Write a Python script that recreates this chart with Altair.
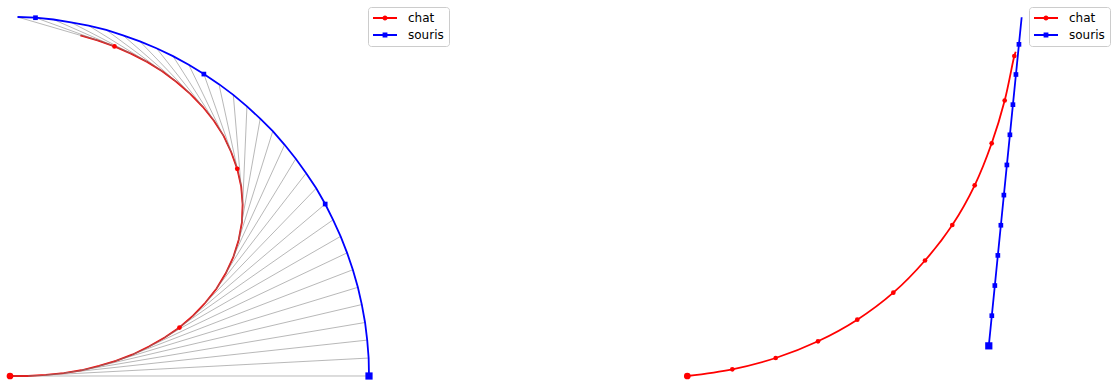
import altair as alt
import pandas as pd

# ---------------- data ----------------
series = ["chat", "souris"]
colors = ["#ff0000", "#0000ff"]

# Left panel: mouse runs on the unit circle, cat starts at its centre
L_cat_x = [0.000, 0.050, 0.100, 0.150, 0.199, 0.248, 0.295, 0.342, 0.387, 0.431,
           0.472, 0.510, 0.544, 0.575, 0.601, 0.622, 0.637, 0.646, 0.648, 0.644,
           0.633, 0.616, 0.595, 0.568, 0.537, 0.502, 0.464, 0.424, 0.382, 0.337,
           0.291, 0.244, 0.196]
L_cat_y = [0.000, 0.000, 0.003, 0.008, 0.016, 0.028, 0.042, 0.060, 0.082, 0.107,
           0.135, 0.168, 0.204, 0.243, 0.286, 0.331, 0.379, 0.428, 0.478, 0.528,
           0.577, 0.624, 0.669, 0.711, 0.750, 0.786, 0.819, 0.849, 0.875, 0.898,
           0.918, 0.935, 0.949]
L_mouse_x = [1.000, 0.999, 0.995, 0.989, 0.980, 0.969, 0.955, 0.939, 0.921, 0.900,
             0.878, 0.853, 0.825, 0.796, 0.765, 0.732, 0.697, 0.660, 0.622, 0.582,
             0.540, 0.498, 0.454, 0.408, 0.362, 0.315, 0.268, 0.219, 0.170, 0.121,
             0.071, 0.021]
L_mouse_y = [0.000, 0.050, 0.100, 0.149, 0.199, 0.247, 0.296, 0.343, 0.389, 0.435,
             0.479, 0.523, 0.565, 0.605, 0.644, 0.682, 0.717, 0.751, 0.783, 0.813,
             0.841, 0.867, 0.891, 0.913, 0.932, 0.949, 0.964, 0.976, 0.985, 0.993,
             0.998, 1.000]

# Right panel: mouse runs on a straight line
R_cat_i = [0, 10, 20, 30, 40, 50, 60, 70, 80, 90, 100, 110, 111]
R_cat_x = [0.000, 1.493, 2.932, 4.335, 5.638, 6.833, 7.884, 8.789, 9.532, 10.096,
           10.527, 10.846, 10.892]
R_cat_y = [0.000, 0.222, 0.597, 1.151, 1.867, 2.763, 3.831, 5.008, 6.325, 7.718,
           9.138, 10.614, 10.756]
R_mouse_i = [0, 10, 20, 30, 40, 50, 60, 70, 80, 90, 100, 109]
R_mouse_x = [10.0, 10.1, 10.2, 10.3, 10.4, 10.5, 10.6, 10.7, 10.8, 10.9, 11.0, 11.09]
R_mouse_y = [1.0, 2.0, 3.0, 4.0, 5.0, 6.0, 7.0, 8.0, 9.0, 10.0, 11.0, 11.9]

# ---------------- helpers ----------------
PATH_CHAT = ("M-2,-0.15L2,-0.15L2,0.15L-2,0.15Z"
             "M-0.42,0A0.42,0.42,0,1,1,0.42,0A0.42,0.42,0,1,1,-0.42,0Z")
PATH_SOURIS = ("M-2,-0.15L2,-0.15L2,0.15L-2,0.15Z"
               "M-0.4,-0.4L0.4,-0.4L0.4,0.4L-0.4,0.4Z")


def frame(xs, ys, idx, name):
    return pd.DataFrame({"x": xs, "y": ys, "i": idx, "series": name})


def panel(cat, mouse, xdom, ydom, leg_x, links=None, interp="linear"):
    xs = alt.Scale(domain=xdom, nice=False, zero=False)
    ys = alt.Scale(domain=ydom, nice=False, zero=False)
    X = alt.X("x:Q", scale=xs, axis=None)
    Y = alt.Y("y:Q", scale=ys, axis=None)
    layers = []

    def line(df, col):
        return alt.Chart(df).mark_line(color=col, strokeWidth=1.8, interpolate=interp).encode(
            x=X, y=Y, order=alt.Order("i:Q"))

    def marks(df, col, shape, size, cond):
        return alt.Chart(df).transform_filter(cond).mark_point(
            shape=shape, filled=True, size=size, color=col, opacity=1, strokeWidth=0
        ).encode(x=X, y=Y)

    layers.append(line(cat, colors[0]))
    if links is not None:
        layers.append(alt.Chart(links).mark_rule(color="#7a7a7a", strokeWidth=0.6, opacity=0.9).encode(
            x=X, y=Y, x2="x2:Q", y2="y2:Q"))
    layers.append(line(mouse, colors[1]))
    layers.append(marks(cat, colors[0], "circle", 22, "datum.i > 0 && datum.i % 10 == 0"))
    layers.append(marks(mouse, colors[1], "square", 22, "datum.i > 0 && datum.i % 10 == 0"))
    layers.append(marks(cat, colors[0], "circle", 45, "datum.i == 0"))
    layers.append(marks(mouse, colors[1], "square", 52, "datum.i == 0"))

    leg = alt.Legend(title=None, orient="none", legendX=leg_x, legendY=7,
                     symbolSize=144, symbolStrokeWidth=0, symbolOpacity=1,
                     symbolOffset=6, labelOffset=17, labelFont="DejaVu Sans",
                     labelFontSize=12, labelColor="black", padding=5, rowPadding=5,
                     fillColor="white", strokeColor="#cccccc", cornerRadius=3,
                     labelLimit=300)
    leg_df = pd.concat([cat.head(1), mouse.head(1)])
    layers.append(alt.Chart(leg_df).transform_filter("datum.i < 0").mark_point(
        filled=True, opacity=1).encode(
        x=X, y=Y,
        color=alt.Color("series:N", scale=alt.Scale(domain=series, range=colors), legend=leg),
        shape=alt.Shape("series:N", scale=alt.Scale(domain=series, range=[PATH_CHAT, PATH_SOURIS]),
                        legend=leg)))
    return alt.layer(*layers).properties(width=556, height=381)


L_cat = frame(L_cat_x, L_cat_y, list(range(len(L_cat_x))), "chat")
L_mouse = frame(L_mouse_x, L_mouse_y, list(range(len(L_mouse_x))), "souris")
n_links = len(L_mouse_x)
L_links = pd.DataFrame({"x": L_cat_x[:n_links], "y": L_cat_y[:n_links],
                        "x2": L_mouse_x, "y2": L_mouse_y})

R_cat = frame(R_cat_x, R_cat_y, R_cat_i, "chat")
R_mouse = frame(R_mouse_x, R_mouse_y, R_mouse_i, "souris")

left = panel(L_cat, L_mouse, [-0.027855, 1.520891], [-0.013928, 1.047354], 368,
             links=L_links, interp="linear")
right = panel(R_cat, R_mouse, [-4.3549, 14.0862], [-0.1658, 12.4710], 473,
              interp="catmull-rom")

chart = alt.hconcat(left, right, spacing=0).resolve_scale(
    x="independent", y="independent", color="independent", shape="independent"
).resolve_legend(color="independent", shape="independent").properties(
    padding=0, background="white"
).configure_view(stroke=None)

chart.save("out.html", embed_options={"renderer": "svg", "actions": False})
